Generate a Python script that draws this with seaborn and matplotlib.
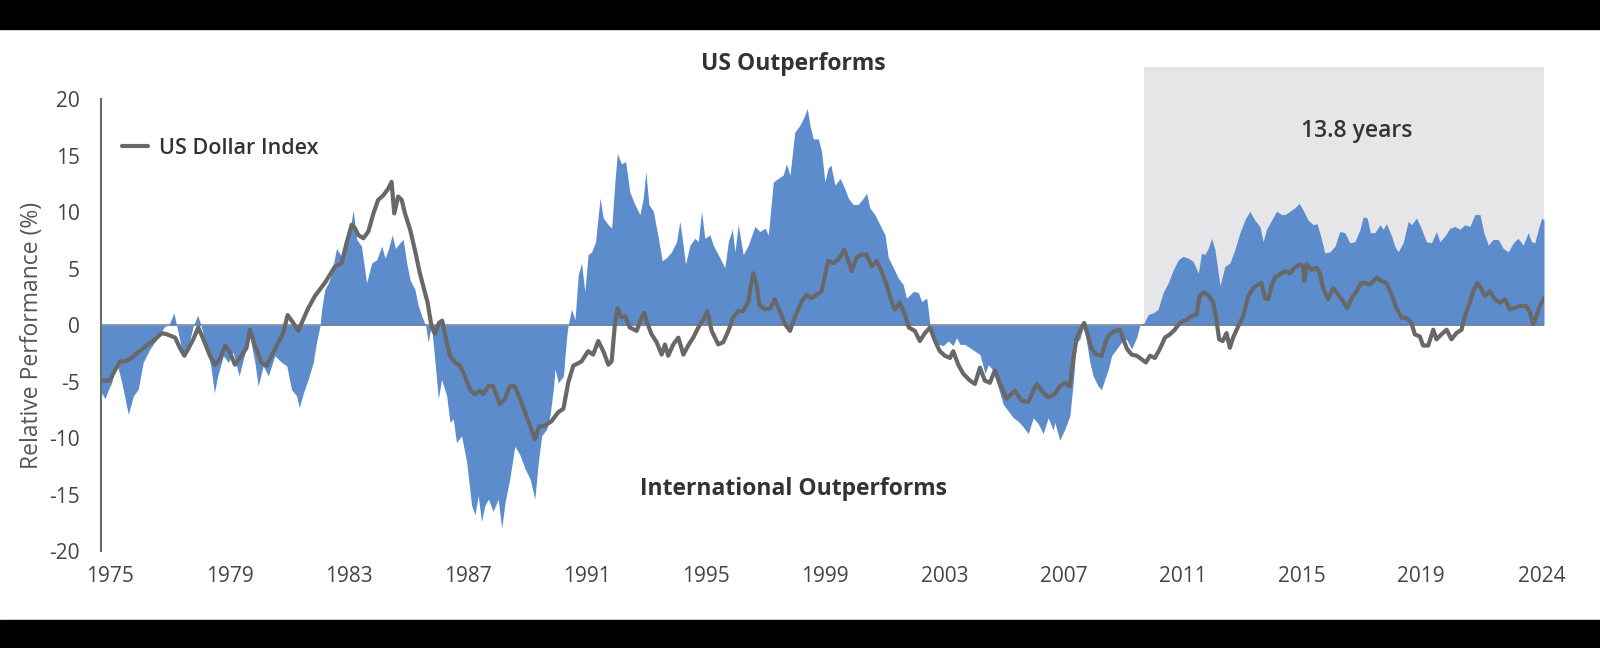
import matplotlib
matplotlib.use("Agg")
import matplotlib.pyplot as plt
import seaborn as sns

# US minus international relative performance (%)
rel_years = [
    1975.03, 1975.15, 1975.26, 1975.37, 1975.54, 1975.71, 1975.93, 1976.10, 1976.26, 1976.43,
    1976.54, 1976.66, 1976.82, 1976.99, 1977.16, 1977.29, 1977.46, 1977.55, 1977.72, 1977.83,
    1978.00, 1978.11, 1978.26, 1978.37, 1978.56, 1978.70, 1978.82, 1978.93, 1979.12, 1979.29,
    1979.45, 1979.65, 1979.85, 1980.01, 1980.18, 1980.29, 1980.46, 1980.63, 1980.85, 1981.08,
    1981.25, 1981.41, 1981.58, 1981.67, 1981.81, 1981.97, 1982.14, 1982.25, 1982.37, 1982.42,
    1982.53, 1982.65, 1982.76, 1982.92, 1983.09, 1983.32, 1983.48, 1983.60, 1983.76, 1983.93,
    1984.10, 1984.27, 1984.44, 1984.55, 1984.66, 1984.79, 1984.90, 1985.05, 1985.16, 1985.28,
    1985.39, 1985.55, 1985.67, 1985.83, 1985.91, 1986.00, 1986.11, 1986.23, 1986.34, 1986.45,
    1986.62, 1986.73, 1986.84, 1986.95, 1987.12, 1987.29, 1987.46, 1987.57, 1987.68, 1987.79,
    1987.90, 1988.02, 1988.18, 1988.35, 1988.47, 1988.58, 1988.74, 1988.91, 1989.08, 1989.25,
    1989.42, 1989.58, 1989.70, 1989.81, 1989.98, 1990.09, 1990.20, 1990.26, 1990.37, 1990.54,
    1990.65, 1990.70, 1990.81, 1990.93, 1991.04, 1991.15, 1991.26, 1991.37, 1991.49, 1991.62,
    1991.77, 1991.88, 1992.05, 1992.16, 1992.27, 1992.35, 1992.49, 1992.63, 1992.77, 1992.94,
    1993.11, 1993.22, 1993.31, 1993.41, 1993.56, 1993.73, 1993.86, 1994.01, 1994.17, 1994.34,
    1994.45, 1994.53, 1994.64, 1994.79, 1994.96, 1995.07, 1995.18, 1995.29, 1995.46, 1995.57,
    1995.74, 1995.96, 1996.08, 1996.21, 1996.30, 1996.41, 1996.58, 1996.75, 1996.97, 1997.14,
    1997.31, 1997.42, 1997.59, 1997.75, 1997.92, 1998.03, 1998.15, 1998.31, 1998.48, 1998.63,
    1998.73, 1998.82, 1998.93, 1999.10, 1999.21, 1999.32, 1999.43, 1999.52, 1999.66, 1999.83,
    1999.99, 2000.11, 2000.27, 2000.44, 2000.61, 2000.72, 2000.83, 2001.00, 2001.17, 2001.34,
    2001.45, 2001.62, 2001.78, 2001.95, 2002.06, 2002.18, 2002.29, 2002.46, 2002.57, 2002.74,
    2002.81, 2002.85, 2002.96, 2003.13, 2003.30, 2003.46, 2003.63, 2003.74, 2003.86, 2004.02,
    2004.19, 2004.36, 2004.53, 2004.70, 2004.81, 2004.97, 2005.14, 2005.31, 2005.48, 2005.65,
    2005.81, 2005.98, 2006.15, 2006.32, 2006.49, 2006.65, 2006.82, 2006.99, 2007.04, 2007.21,
    2007.38, 2007.55, 2007.66, 2007.77, 2007.88, 2008.02, 2008.11, 2008.22, 2008.33, 2008.50,
    2008.61, 2008.72, 2008.84, 2008.95, 2009.12, 2009.28, 2009.45, 2009.62, 2009.79, 2009.90,
    2010.04, 2010.18, 2010.35, 2010.51, 2010.68, 2010.85, 2011.02, 2011.19, 2011.35, 2011.52,
    2011.69, 2011.86, 2011.97, 2012.08, 2012.19, 2012.31, 2012.42, 2012.59, 2012.75, 2012.92,
    2013.09, 2013.26, 2013.42, 2013.59, 2013.76, 2013.93, 2014.04, 2014.15, 2014.32, 2014.49,
    2014.66, 2014.77, 2014.94, 2015.10, 2015.25, 2015.38, 2015.55, 2015.72, 2015.85, 2015.97,
    2016.11, 2016.28, 2016.45, 2016.61, 2016.78, 2016.95, 2017.12, 2017.29, 2017.40, 2017.53,
    2017.64, 2017.79, 2017.96, 2018.07, 2018.18, 2018.35, 2018.46, 2018.57, 2018.74, 2018.91,
    2019.02, 2019.19, 2019.36, 2019.52, 2019.69, 2019.86, 2019.97, 2020.14, 2020.31, 2020.48,
    2020.64, 2020.81, 2020.98, 2021.15, 2021.32, 2021.45, 2021.60, 2021.76, 2021.93, 2022.10,
    2022.27, 2022.44, 2022.60, 2022.77, 2022.94, 2023.05, 2023.16, 2023.28, 2023.39, 2023.47,
]
rel_perf = [
    -6.0, -6.5, -5.7, -5.1, -3.3, -5.1, -7.9, -6.25, -5.7, -3.3,
    -2.7, -2.1, -1.5, -0.7, -0.1, 0.0, 1.1, 0.0, -2.1, -2.9,
    -1.25, -0.1, 0.9, 0.0, -2.1, -3.6, -6.0, -4.5, -2.7, -3.3,
    -2.4, -4.5, -2.4, -1.0, -3.3, -5.4, -3.6, -4.5, -2.7, -3.3,
    -3.6, -5.7, -6.25, -7.3, -6.0, -4.8, -3.3, -1.5, 0.0, 1.4,
    3.2, 3.75, 4.6, 6.8, 6.1, 7.6, 10.2, 7.6, 7.0, 3.75,
    5.5, 5.8, 7.0, 5.95, 6.7, 8.0, 6.8, 7.3, 7.6, 5.5,
    4.0, 3.2, 1.7, 0.5, 0.0, -1.5, 0.0, -3.3, -6.5, -4.8,
    -6.25, -8.6, -8.3, -10.4, -9.8, -12.1, -16.0, -16.8, -15.1, -17.4,
    -16.0, -15.4, -16.5, -15.4, -18.0, -15.7, -13.6, -10.7, -11.5, -12.7,
    -13.6, -15.4, -12.1, -9.8, -9.2, -8.0, -5.7, -3.9, -5.1, -4.5,
    -1.0, 0.0, 1.4, 0.5, 4.5, 5.5, 3.0, 6.25, 6.5, 7.4,
    11.25, 9.5, 8.9, 8.6, 12.7, 15.2, 14.3, 14.5, 11.8, 10.7,
    9.8, 11.25, 13.6, 10.7, 10.1, 7.7, 5.7, 6.0, 6.5, 7.4,
    9.2, 7.7, 5.4, 7.1, 7.7, 7.4, 10.1, 7.7, 8.0, 7.1,
    6.25, 5.1, 7.4, 8.5, 6.5, 8.9, 6.25, 7.1, 8.75, 8.3,
    8.6, 8.0, 12.7, 13.0, 13.3, 14.3, 13.3, 17.1, 17.7, 18.5,
    19.2, 17.7, 16.5, 16.5, 15.4, 12.7, 13.9, 14.2, 12.4, 13.0,
    12.1, 11.25, 10.7, 10.7, 11.25, 11.7, 10.4, 9.8, 8.9, 8.0,
    6.0, 5.1, 4.2, 3.6, 2.4, 2.7, 3.0, 2.9, 2.1, 2.4,
    1.0, 0.0, -0.8, -1.7, -1.8, -1.4, -1.8, -1.1, -1.7, -1.7,
    -2.0, -2.3, -2.6, -4.3, -3.5, -4.0, -5.5, -7.0, -7.6, -8.2,
    -8.5, -9.0, -9.6, -8.2, -8.75, -9.6, -8.2, -9.3, -8.6, -10.2,
    -9.2, -8.0, -5.1, -1.5, -1.25, 0.0, -1.5, -3.3, -4.5, -5.4,
    -5.7, -4.8, -3.9, -2.7, -2.1, -1.5, -1.25, -2.1, -1.1, 0.0,
    0.2, 0.95, 1.1, 1.4, 2.9, 3.75, 4.9, 5.8, 6.1, 5.95,
    5.65, 4.6, 6.4, 6.25, 6.8, 7.7, 6.7, 3.5, 5.2, 5.5,
    6.7, 8.2, 9.3, 10.1, 9.3, 8.75, 7.4, 8.5, 9.3, 10.1,
    9.8, 9.8, 10.1, 10.4, 10.8, 10.2, 9.3, 8.9, 9.0, 7.9,
    6.4, 6.5, 7.0, 8.3, 8.2, 7.3, 7.4, 8.5, 9.6, 9.5,
    8.2, 8.2, 8.9, 8.5, 9.0, 7.9, 7.0, 6.5, 7.3, 9.2,
    8.9, 9.5, 8.5, 7.4, 7.3, 8.3, 7.4, 7.9, 8.6, 8.75,
    8.5, 8.9, 8.75, 9.8, 9.8, 8.2, 7.1, 7.6, 7.6, 6.8,
    6.5, 7.3, 7.7, 7.1, 8.2, 7.4, 7.3, 8.5, 9.5, 9.3,
]

# US Dollar Index (rescaled to the same axis)
usd_years = [
    1975.00, 1975.31, 1975.48, 1975.65, 1975.82, 1976.04, 1976.26, 1976.54, 1976.77, 1977.05,
    1977.22, 1977.50, 1977.66, 1977.81, 1977.94, 1978.11, 1978.28, 1978.45, 1978.67, 1978.84,
    1979.01, 1979.18, 1979.34, 1979.51, 1979.73, 1979.90, 1980.01, 1980.18, 1980.40, 1980.57,
    1980.74, 1980.97, 1981.13, 1981.28, 1981.47, 1981.64, 1981.80, 1981.97, 1982.20, 1982.53,
    1982.87, 1983.09, 1983.26, 1983.43, 1983.54, 1983.65, 1983.82, 1983.99, 1984.16, 1984.32,
    1984.49, 1984.66, 1984.77, 1984.86, 1984.99, 1985.11, 1985.22, 1985.39, 1985.55, 1985.72,
    1985.83, 1985.98, 1986.11, 1986.23, 1986.36, 1986.47, 1986.62, 1986.73, 1986.90, 1987.07,
    1987.23, 1987.40, 1987.57, 1987.74, 1987.85, 1988.02, 1988.18, 1988.41, 1988.58, 1988.74,
    1988.91, 1989.08, 1989.25, 1989.42, 1989.58, 1989.72, 1989.92, 1990.14, 1990.37, 1990.54,
    1990.70, 1990.87, 1991.15, 1991.37, 1991.54, 1991.71, 1991.88, 1992.05, 1992.16, 1992.27,
    1992.36, 1992.49, 1992.61, 1992.77, 1993.00, 1993.17, 1993.26, 1993.33, 1993.50, 1993.67,
    1993.84, 1993.95, 1994.06, 1994.23, 1994.40, 1994.57, 1994.73, 1994.90, 1995.07, 1995.24,
    1995.37, 1995.52, 1995.74, 1995.91, 1996.08, 1996.24, 1996.41, 1996.58, 1996.75, 1996.84,
    1996.92, 1997.03, 1997.12, 1997.31, 1997.48, 1997.64, 1997.81, 1997.98, 1998.15, 1998.31,
    1998.54, 1998.71, 1998.87, 1999.21, 1999.43, 1999.60, 1999.77, 1999.97, 2000.11, 2000.22,
    2000.39, 2000.55, 2000.72, 2000.89, 2001.06, 2001.22, 2001.39, 2001.56, 2001.67, 2001.84,
    2002.01, 2002.14, 2002.34, 2002.51, 2002.68, 2002.85, 2003.02, 2003.18, 2003.35, 2003.52,
    2003.63, 2003.80, 2003.97, 2004.19, 2004.36, 2004.53, 2004.69, 2004.86, 2005.03, 2005.20,
    2005.42, 2005.70, 2005.93, 2006.15, 2006.43, 2006.60, 2006.82, 2007.04, 2007.21, 2007.38,
    2007.55, 2007.66, 2007.77, 2007.88, 2008.03, 2008.16, 2008.28, 2008.44, 2008.61, 2008.78,
    2008.89, 2009.06, 2009.23, 2009.34, 2009.47, 2009.62, 2009.79, 2009.95, 2010.10, 2010.24,
    2010.40, 2010.57, 2010.74, 2010.91, 2011.07, 2011.24, 2011.47, 2011.63, 2011.80, 2011.91,
    2012.03, 2012.19, 2012.36, 2012.47, 2012.56, 2012.68, 2012.81, 2012.92, 2013.03, 2013.20,
    2013.37, 2013.54, 2013.71, 2013.87, 2013.98, 2014.10, 2014.21, 2014.32, 2014.43, 2014.60,
    2014.77, 2014.94, 2015.10, 2015.27, 2015.38, 2015.42, 2015.50, 2015.66, 2015.83, 2015.94,
    2016.06, 2016.22, 2016.39, 2016.56, 2016.73, 2016.86, 2017.01, 2017.17, 2017.34, 2017.45,
    2017.62, 2017.85, 2018.01, 2018.18, 2018.35, 2018.52, 2018.69, 2018.85, 2019.02, 2019.13,
    2019.30, 2019.41, 2019.58, 2019.75, 2019.86, 2020.03, 2020.20, 2020.36, 2020.53, 2020.70,
    2020.81, 2020.98, 2021.09, 2021.23, 2021.37, 2021.48, 2021.65, 2021.82, 2021.99, 2022.16,
    2022.32, 2022.44, 2022.66, 2022.88, 2023.00, 2023.11, 2023.22, 2023.33, 2023.47,
]
usd_index = [
    -4.9, -4.9, -4.0, -3.2, -3.2, -2.9, -2.4, -1.8, -1.4, -0.7,
    -0.8, -1.1, -2.0, -2.7, -2.1, -1.25, -0.2, -1.25, -2.7, -3.5,
    -3.0, -1.8, -2.4, -3.5, -2.7, -2.0, -0.4, -1.8, -3.3, -3.6,
    -2.7, -1.5, -0.7, 0.9, 0.2, -0.5, 0.5, 1.5, 2.6, 3.75,
    5.2, 5.5, 7.3, 8.9, 8.6, 8.0, 7.7, 8.3, 9.9, 11.1,
    11.5, 12.1, 12.7, 9.9, 11.4, 11.1, 9.9, 8.5, 6.7, 4.6,
    3.5, 2.0, -0.1, -0.8, 0.2, 0.4, -1.5, -2.7, -3.3, -3.6,
    -4.5, -5.7, -6.1, -5.8, -6.1, -5.4, -5.4, -7.0, -6.5, -5.4,
    -5.4, -6.5, -7.7, -8.9, -10.1, -9.0, -8.9, -8.5, -7.7, -7.4,
    -5.1, -3.6, -3.2, -2.3, -2.6, -1.4, -2.3, -3.5, -3.2, 0.1,
    1.5, 0.7, 0.8, -0.2, -0.5, 0.7, 1.1, 0.4, -0.8, -1.5,
    -2.6, -1.7, -2.7, -1.7, -1.1, -2.6, -1.8, -1.1, -0.2, 0.5,
    1.25, -0.5, -1.7, -1.5, -0.5, 0.7, 1.25, 1.25, 2.1, 3.6,
    4.6, 3.6, 1.8, 1.4, 1.5, 2.3, 1.25, 0.1, -0.5, 0.7,
    2.1, 2.7, 2.4, 3.0, 5.7, 5.5, 5.8, 6.7, 5.7, 4.8,
    6.0, 6.25, 6.25, 5.2, 5.7, 4.8, 3.6, 2.1, 1.4, 2.0,
    0.9, -0.2, -0.5, -1.4, -0.7, -0.2, -1.4, -2.3, -2.7, -2.9,
    -2.3, -3.5, -4.3, -4.9, -5.2, -3.75, -4.9, -5.1, -4.0, -5.2,
    -6.5, -5.8, -6.7, -6.8, -5.2, -5.8, -6.4, -6.1, -5.4, -5.1,
    -5.4, -3.0, -1.25, -0.5, 0.2, -1.0, -2.1, -2.6, -2.7, -1.25,
    -0.8, -0.5, -0.4, -1.25, -2.1, -2.6, -2.7, -3.0, -3.3, -2.7,
    -2.9, -2.1, -1.1, -0.8, -0.4, 0.2, 0.5, 0.8, 0.95, 2.6,
    2.9, 2.7, 2.0, 0.5, -1.25, -1.4, -0.7, -2.0, -1.1, -0.1,
    0.8, 2.6, 3.3, 3.6, 3.75, 2.4, 2.3, 3.5, 4.2, 4.5,
    4.8, 4.6, 5.1, 5.4, 5.2, 3.9, 5.4, 4.9, 5.1, 4.6,
    3.2, 2.3, 3.3, 2.7, 2.1, 1.5, 2.4, 3.0, 3.75, 3.75,
    3.6, 4.2, 3.9, 3.75, 2.7, 1.5, 0.65, 0.65, 0.2, -0.8,
    -1.0, -1.8, -1.8, -0.4, -1.25, -0.8, -0.4, -1.25, -0.7, -0.4,
    0.8, 2.0, 3.0, 3.75, 3.2, 2.6, 3.0, 2.3, 2.0, 2.3,
    1.4, 1.5, 1.7, 1.7, 1.1, 0.1, 0.8, 1.7, 2.4,
]

# labels sit a little right of each January in the source chart
tick_years = [1975.33, 1979.33, 1983.33, 1987.33, 1991.33, 1995.33, 1999.33, 2003.33,
              2007.33, 2011.33, 2015.33, 2019.33, 2023.40]
tick_labels = ["1975", "1979", "1983", "1987", "1991", "1995", "1999", "2003", "2007",
               "2011", "2015", "2019", "2024"]
y_ticks = [-20, -15, -10, -5, 0, 5, 10, 15, 20]

cycle_start = 2010.03
cycle_label = "13.8 years"

BLUE = "#5d8ccd"
GREY = "#686868"
TEXT = "#333333"

sns.set_theme(style="white")
plt.rcParams["font.family"] = ["Open Sans", "DejaVu Sans"]
plt.rcParams["axes.unicode_minus"] = False

fig = plt.figure(figsize=(16, 6.48), dpi=100)
ax = fig.add_axes([0.0629, 0.1497, 0.9021, 0.7491])

# letterbox bars of the source image
for y0, h in [(0, 28 / 648), (1 - 29 / 648, 29 / 648)]:
    fig.add_artist(plt.Rectangle((0, y0), 1, h, transform=fig.transFigure,
                                 color="black", zorder=10))

# shaded current cycle
ax.fill_between([cycle_start, rel_years[-1]], 0, 22.9, color="#e6e6e8", lw=0, zorder=0)

# relative performance area
ax.fill_between(rel_years, 0, rel_perf, color=BLUE, lw=0, zorder=2)
ax.axhline(0, color="#6e7f96", lw=1.1, zorder=3)

# dollar index line
sns.lineplot(x=usd_years, y=usd_index, ax=ax, color=GREY, lw=3.0, zorder=4,
             label="US Dollar Index")

ax.set_xlim(1975, rel_years[-1])
ax.set_ylim(-20, 23)
ax.set_xticks(tick_years, tick_labels)
ax.set_yticks(y_ticks)
ax.tick_params(axis="both", length=0, labelsize=15, labelcolor="#444444")
ax.tick_params(axis="y", pad=15)
ax.tick_params(axis="x", pad=11)

for side in ["top", "right", "bottom"]:
    ax.spines[side].set_visible(False)
ax.spines["left"].set_color("#6b6b6b")
ax.spines["left"].set_linewidth(1.5)
ax.spines["left"].set_bounds(-20, 20)

ax.set_ylabel("Relative Performance (%)", fontsize=16.5, color="#555555")
ax.yaxis.set_label_coords(-0.039, 0.445)

leg = ax.legend(loc="center left", bbox_to_anchor=(0.0148, 0.83), frameon=False,
                fontsize=15.5, handlelength=1.2, handletextpad=0.5,
                borderpad=0, borderaxespad=0)
for t in leg.get_texts():
    t.set_color(TEXT)
    t.set_fontweight("semibold")

fig.text(0.496, 1 - 64 / 648, "US Outperforms", ha="center", va="center",
         fontsize=16.5, fontweight="bold", color=TEXT)
fig.text(0.496, 1 - 489 / 648, "International Outperforms", ha="center", va="center",
         fontsize=16.5, fontweight="bold", color=TEXT)
fig.text(0.848, 1 - 131 / 648, cycle_label, ha="center", va="center",
         fontsize=16.5, fontweight="semibold", color=TEXT)

fig.savefig("out.png", dpi=100, facecolor="white")
